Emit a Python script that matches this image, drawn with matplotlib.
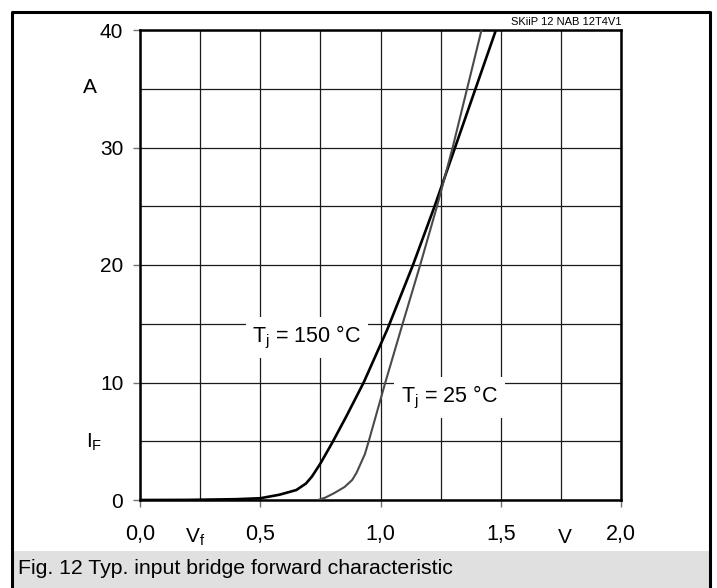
import numpy as np
import matplotlib
matplotlib.use('Agg')
import matplotlib.pyplot as plt
from matplotlib.lines import Line2D
from matplotlib.patches import Rectangle

plt.rcParams['font.family'] = ['Liberation Sans', 'DejaVu Sans']
plt.rcParams['mathtext.fontset'] = 'custom'
plt.rcParams['mathtext.rm'] = 'Liberation Sans'
plt.rcParams['mathtext.it'] = 'Liberation Sans'
plt.rcParams['mathtext.default'] = 'regular'

# forward characteristic
vf_150 = [0.0, 0.2, 0.4, 0.5, 0.58, 0.65, 0.69, 0.715, 0.75, 0.8, 0.86, 0.93, 1.03, 1.135, 1.225, 1.31, 1.395, 1.48]
if_150 = [0.0, 0.01, 0.07, 0.15, 0.45, 0.85, 1.4, 2.0, 3.1, 4.9, 7.2, 10.0, 14.6, 20.0, 25.0, 30.0, 35.0, 40.0]

vf_25 = [0.74, 0.77, 0.806, 0.85, 0.882, 0.9, 0.935, 0.951, 1.02, 1.092, 1.165, 1.235, 1.3, 1.36, 1.42]
if_25 = [0.0, 0.2, 0.57, 1.1, 1.7, 2.3, 3.9, 5.0, 10.0, 15.0, 20.0, 25.0, 30.0, 35.0, 40.0]

x_ticks = [0.0, 0.5, 1.0, 1.5, 2.0]
x_labels = ['0,0', '0,5', '1,0', '1,5', '2,0']
y_ticks = [0, 10, 20, 30, 40]

W, H = 717, 588
fig = plt.figure(figsize=(W / 100, H / 100), dpi=100)
ax = fig.add_axes([140 / W, (H - 500) / H, 481 / W, 470 / H])

ax.plot(vf_150, if_150, color='black', lw=1.9, zorder=4)
ax.plot(vf_25, if_25, color='#4a4a4a', lw=1.5, zorder=4)

ax.set_xlim(0, 2)
ax.set_ylim(0, 40)
ax.set_xticks(x_ticks)
ax.set_xticklabels(x_labels)
ax.set_yticks(y_ticks)
ax.set_xticks(np.arange(0, 2.01, 0.25), minor=True)
ax.set_yticks(np.arange(0, 40.1, 5), minor=True)
ax.tick_params(which='major', direction='out', length=5, width=1, color='0.45', labelsize=15)
ax.tick_params(axis='x', which='major', pad=12, labelsize=15.5)
ax.tick_params(axis='y', which='major', pad=7)
ax.tick_params(which='minor', length=0)
ax.set_axisbelow(True)
ax.grid(which='both', color='#1a1a1a', lw=0.9)
for s in ax.spines.values():
    s.set_linewidth(1.8)

box = dict(facecolor='white', edgecolor='none', pad=5)
ax.text(0.694, 13.8, r'T$_j$ = 150 °C', fontsize=15.5, ha='center', va='center', bbox=box, zorder=3)
ax.text(1.287, 8.7, r'T$_j$ = 25 °C', fontsize=15.5, ha='center', va='center', bbox=box, zorder=3)

ax.text(-0.21, 35.1, 'A', fontsize=15, ha='center', va='center', clip_on=False)
ax.text(-0.19, 4.9, r'I$_F$', fontsize=15, ha='center', va='center', clip_on=False)
ax.text(0.229, -3.2, r'V$_f$', fontsize=15, ha='center', va='center', clip_on=False)
ax.text(1.767, -3.2, 'V', fontsize=15, ha='center', va='center', clip_on=False)
ax.text(1.0, 1.006, 'SKiiP 12 NAB 12T4V1', fontsize=8, ha='right', va='bottom', transform=ax.transAxes)

# outer frame and caption bar
fig.patches.append(Rectangle((13 / W, 0), 696 / W, 37 / H, transform=fig.transFigure,
                             facecolor='#e0e0e0', edgecolor='none'))
fx = [11.5 / W, 11.5 / W, 710 / W, 710 / W]
fy = [0, (H - 12) / H, (H - 12) / H, 0]
fig.lines.append(Line2D(fx, fy, transform=fig.transFigure, color='black', lw=2.2))
fig.text(18 / W, (H - 569) / H, 'Fig. 12 Typ. input bridge forward characteristic',
         fontsize=15.3, ha='left', va='center')

fig.savefig('out.png', dpi=100)
